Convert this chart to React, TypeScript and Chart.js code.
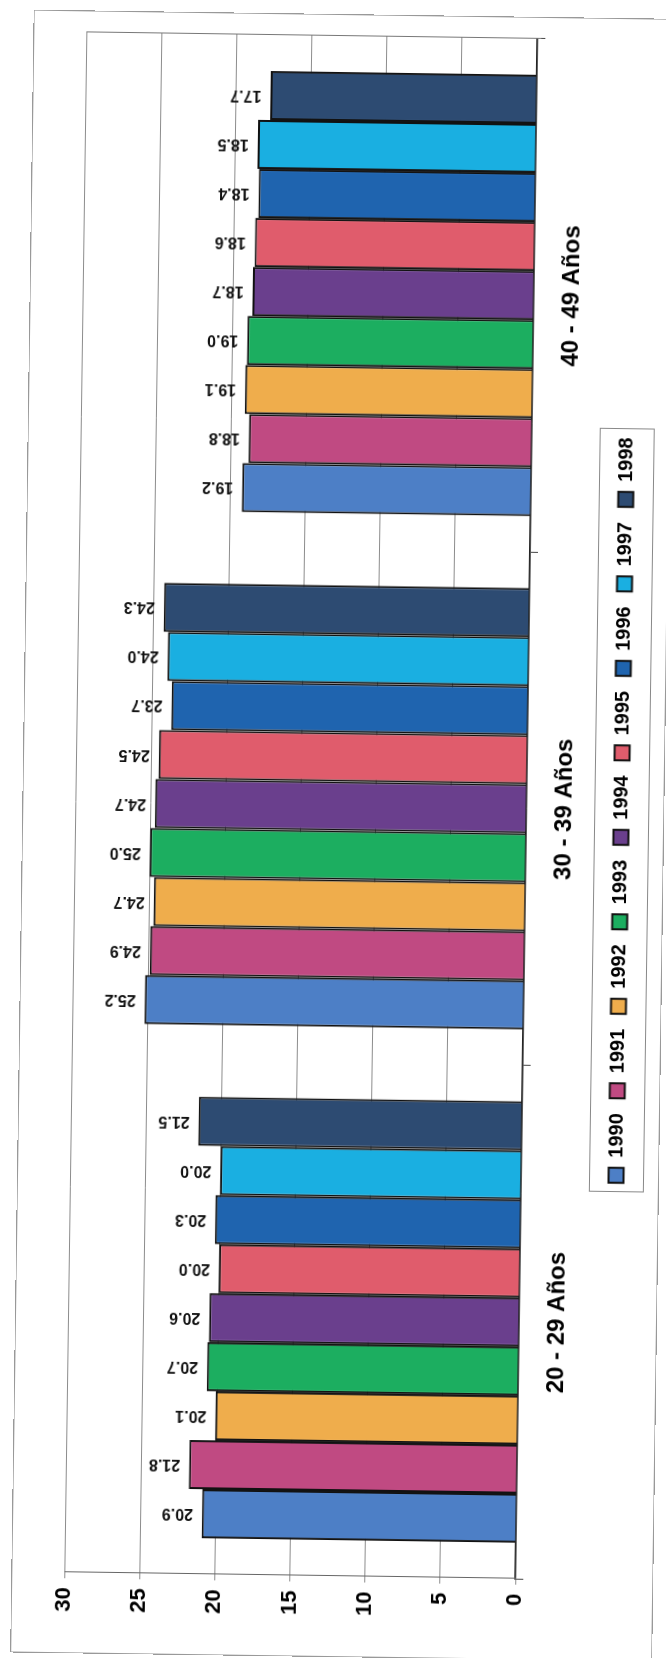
import React, { useEffect, useRef } from "react";
import { Chart, registerables } from "chart.js";

Chart.register(...registerables);

const categories = ["20 - 29 Años", "30 - 39 Años", "40 - 49 Años"];
const years = ["1990", "1991", "1992", "1993", "1994", "1995", "1996", "1997", "1998"];
const v1990 = [20.9, 25.2, 19.2];
const v1991 = [21.8, 24.9, 18.8];
const v1992 = [20.1, 24.7, 19.1];
const v1993 = [20.7, 25.0, 19.0];
const v1994 = [20.6, 24.7, 18.7];
const v1995 = [20.0, 24.5, 18.6];
const v1996 = [20.3, 23.7, 18.4];
const v1997 = [20.0, 24.0, 18.5];
const v1998 = [21.5, 24.3, 17.7];
const yTicks = [0, 5, 10, 15, 20, 25, 30];
const seriesValues = [v1990, v1991, v1992, v1993, v1994, v1995, v1996, v1997, v1998];
const seriesColors = [
  "#4d7fc6",
  "#c04a82",
  "#efad4c",
  "#1cae60",
  "#6a3f8d",
  "#e05c6c",
  "#1f64af",
  "#1aafe1",
  "#2d4b72",
];

const FONT = "'Liberation Sans', Arial, Helvetica, sans-serif";
const W = 1658;
const H = 666;

const valueLabels = {
  id: "valueLabels",
  afterDatasetsDraw(chart: any) {
    const ctx = chart.ctx;
    ctx.save();
    ctx.fillStyle = "#111";
    ctx.font = `bold 16px ${FONT}`;
    ctx.textAlign = "left";
    ctx.textBaseline = "middle";
    chart.data.datasets.forEach((ds: any, di: number) => {
      const meta = chart.getDatasetMeta(di);
      meta.data.forEach((bar: any, i: number) => {
        const v = ds.data[i];
        ctx.save();
        ctx.translate(bar.x, bar.y - 9);
        ctx.rotate(-Math.PI / 2);
        ctx.fillText(Number(v).toFixed(1), 0, 0);
        ctx.restore();
      });
    });
    ctx.restore();
  },
};

const frames = {
  id: "frames",
  beforeDatasetsDraw(chart: any) {
    const { ctx, chartArea } = chart;
    ctx.save();
    ctx.strokeStyle = "#777";
    ctx.lineWidth = 1;
    ctx.beginPath();
    ctx.moveTo(chartArea.right + 0.5, chartArea.top);
    ctx.lineTo(chartArea.right + 0.5, chartArea.bottom + 4);
    ctx.stroke();
    ctx.restore();
  },
  afterDraw(chart: any) {
    const { ctx } = chart;
    const legend = chart.legend;
    if (!legend || !legend.legendHitBoxes || !legend.legendHitBoxes.length) return;
    const boxes = legend.legendHitBoxes;
    const first = boxes[0];
    const last = boxes[boxes.length - 1];
    const left = first.left - 9;
    const right = last.left + last.width + 9;
    const cy = first.top + first.height / 2;
    ctx.save();
    ctx.strokeStyle = "#888";
    ctx.lineWidth = 1;
    ctx.strokeRect(Math.round(left) + 0.5, Math.round(cy - 27) + 0.5, Math.round(right - left), 54);
    ctx.restore();
  },
};

function BarChart() {
  const ref = useRef<HTMLCanvasElement | null>(null);
  useEffect(() => {
    if (!ref.current) return;
    const chart = new Chart(ref.current, {
      type: "bar",
      data: {
        labels: categories,
        datasets: years.map((y, i) => ({
          label: y,
          data: seriesValues[i],
          backgroundColor: seriesColors[i],
          borderColor: "#111",
          borderWidth: 2,
          borderSkipped: "start",
          categoryPercentage: 0.86,
          barPercentage: 1,
        })),
      },
      options: {
        responsive: false,
        animation: false,
        devicePixelRatio: 1,
        layout: { padding: { left: 22, right: 36, top: 75, bottom: 25 } },
        plugins: {
          legend: {
            position: "bottom",
            fullSize: false,
            labels: {
              boxWidth: 15,
              boxHeight: 15,
              padding: 15,
              color: "#000",
              font: { family: FONT, size: 20, weight: "bold" },
            },
          },
          tooltip: { enabled: false },
        },
        scales: {
          x: {
            grid: {
              display: true,
              drawOnChartArea: false,
              drawTicks: true,
              tickLength: 8,
              color: "#444",
              offset: true,
            },
            border: { display: true, color: "#222", width: 1.5 },
            ticks: {
              color: "#000",
              padding: 16,
              maxRotation: 0,
              minRotation: 0,
              font: { family: FONT, size: 24, weight: "bold" },
            },
            afterFit: (s: any) => {
              s.height = 70;
            },
          },
          y: {
            min: 0,
            max: 30,
            afterBuildTicks: (s: any) => {
              s.ticks = yTicks.map((v) => ({ value: v }));
            },
            grid: { color: "#8c8c8c", lineWidth: 1, tickLength: 6 },
            border: { display: true, color: "#666", width: 1 },
            ticks: {
              color: "#000",
              padding: 9,
              font: { family: FONT, size: 22, weight: "bold" },
            },
            afterFit: (s: any) => {
              s.width = 60;
            },
          },
        },
      },
      plugins: [valueLabels, frames],
    } as any);
    return () => chart.destroy();
  }, []);
  return <canvas ref={ref} width={W} height={H} style={{ width: W, height: H, display: "block" }} />;
}

export default function App() {
  return (
    <div
      style={{
        position: "absolute",
        left: 0,
        top: 0,
        width: 666,
        height: 1658,
        overflow: "hidden",
        background: "#fff",
      }}
    >
      <div
        style={{
          position: "absolute",
          left: (666 - W) / 2,
          top: (1658 - H) / 2,
          width: W,
          height: H,
          transform: "rotate(-89.18deg)",
          transformOrigin: "50% 50%",
          background: "#fff",
        }}
      >
        <BarChart />
        <div
          style={{
            position: "absolute",
            left: 1,
            top: 22,
            width: 1643,
            height: 642,
            border: "1px solid #999",
            boxSizing: "border-box",
            pointerEvents: "none",
          }}
        />
      </div>
    </div>
  );
}
